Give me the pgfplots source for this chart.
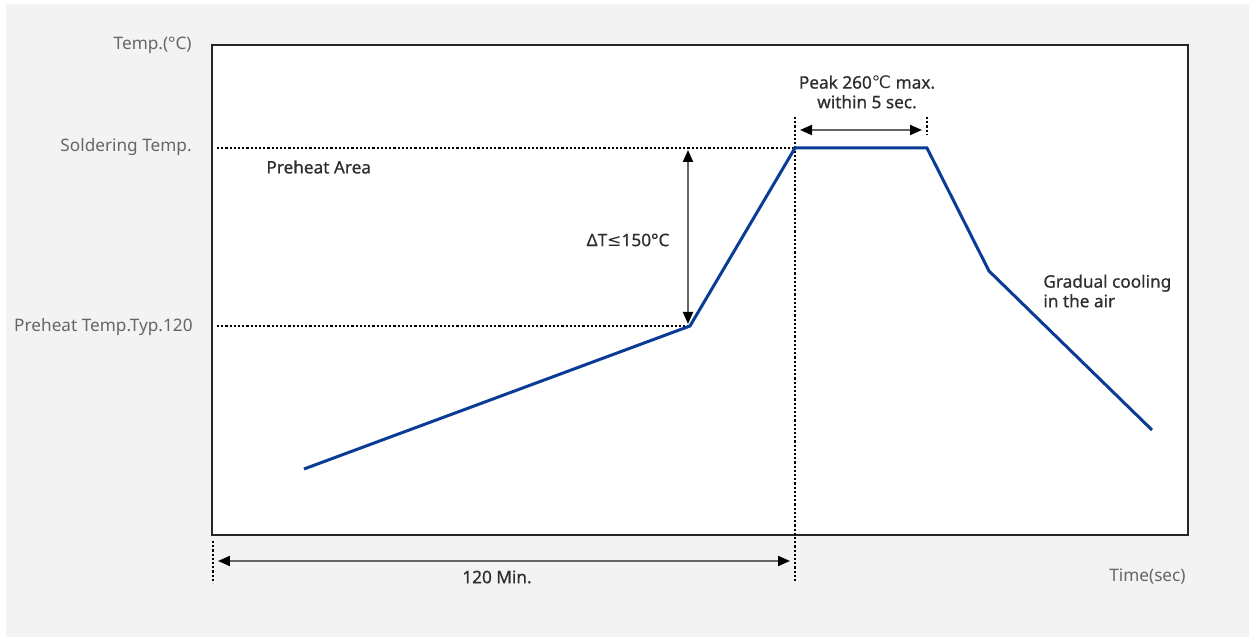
\documentclass[border=0pt]{standalone}
\usepackage{pgfplots}
\pgfplotsset{compat=1.18}
\usetikzlibrary{arrows.meta}
\usepackage{fontspec}
\setmainfont{Noto Sans}
\newfontfamily\annfont[FakeBold=0.6]{Noto Sans}
\newfontfamily\symfont{DejaVu Sans}
\definecolor{bg}{HTML}{F3F3F3}
\definecolor{prof}{HTML}{0A3C96}
\definecolor{lab}{HTML}{666666}
\definecolor{ann}{HTML}{2E2E2E}
\definecolor{arr}{HTML}{666666}
\tikzset{t/.style={inner sep=0pt, font=\fontsize{8.6}{9.8}\selectfont},
         a/.style={inner sep=0pt, font=\annfont\fontsize{8.6}{9.8}\selectfont}}
\begin{document}
\begin{tikzpicture}
\useasboundingbox (-106pt,-52.5pt) rectangle (520.5pt,267.5pt);
\fill[white] (-106pt,-52.5pt) rectangle (520.5pt,267.5pt);
\fill[bg] (-103pt,-51pt) rectangle (518.5pt,265.5pt);
\begin{axis}[
  at={(0pt,0pt)}, anchor=south west,
  scale only axis, width=488pt, height=245pt,
  xmin=0, xmax=976, ymin=0, ymax=490,
  ticks=none, clip=false,
  axis background/.style={fill=white},
  axis line style={black!85, line width=0.6pt},
]
% reference lines
\draw[black, line width=1.1pt, dash pattern=on 1.1pt off 1pt] (5,387) -- (583,387);
\draw[black, line width=1.1pt, dash pattern=on 1.1pt off 1pt] (5,209) -- (478,209);
\draw[black, line width=1.1pt, dash pattern=on 1.1pt off 1pt] (583,418) -- (583,-48);
\draw[black, line width=1.1pt, dash pattern=on 1.1pt off 1pt] (715,418) -- (715,400);
\draw[black, line width=1.1pt, dash pattern=on 1.1pt off 1pt] (1,-6) -- (1,-48);
% profile
\addplot[prof, line width=1.5pt, line join=miter, mark=none] coordinates {
  (92,66) (478,209) (583,387) (715,387) (777,264) (940,105)
};
% arrows
\draw[arr, line width=1pt, {Triangle[length=6pt,width=5pt,black]}-{Triangle[length=6pt,width=5pt,black]}] (6,-26) -- (578,-26);
\draw[arr, line width=1pt, {Triangle[length=6pt,width=5pt,black]}-{Triangle[length=6pt,width=5pt,black]}] (588,405) -- (710,405);
\draw[arr, line width=1pt, {Triangle[length=6pt,width=5pt,black]}-{Triangle[length=6pt,width=5pt,black]}] (476,385) -- (476,211);
% axis labels
\node[t, lab, anchor=east] at (-20,490) {Temp.(°C)};
\node[t, lab, anchor=east] at (-20,388) {Soldering Temp.};
\node[t, lab, anchor=east] at (-19,208) {Preheat Temp.Typ.120};
\node[t, lab, anchor=east] at (974,-42) {Time(sec)};
% annotations
\node[a, ann, anchor=west] at (54,368) {Preheat Area};
\node[a, ann] at (416,295) {ΔT{\symfont ≤}150°C};
\node[a, ann, align=center] at (655,443) {Peak 260{\symfont ℃} max.\\within 5 sec.};
\node[a, ann] at (285,-42) {120 Min.};
\node[a, ann, align=left, anchor=west] at (831,244) {Gradual cooling\\in the air};
\end{axis}
\end{tikzpicture}
\end{document}
